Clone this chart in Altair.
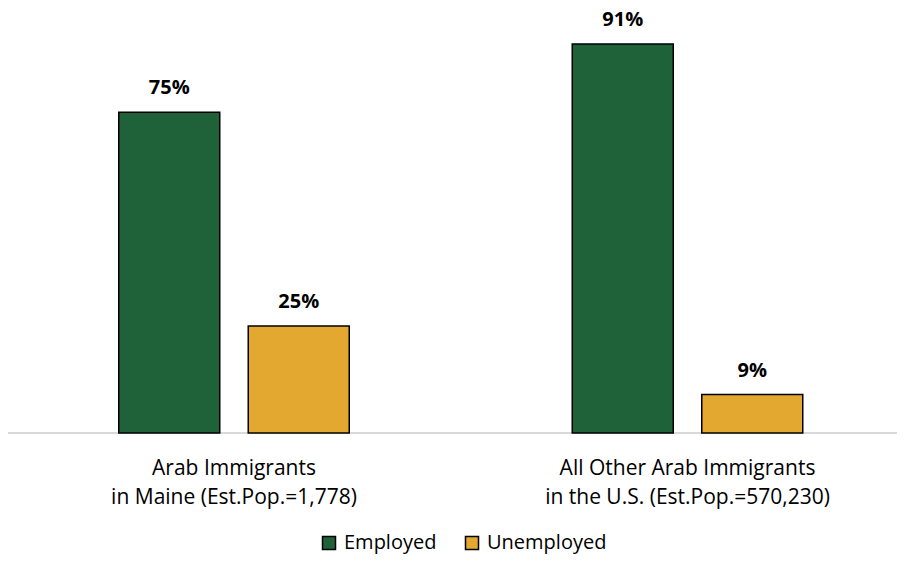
import altair as alt
import pandas as pd

groups = ["Arab Immigrants|in Maine (Est.Pop.=1,778)",
          "All Other Arab Immigrants|in the U.S. (Est.Pop.=570,230)"]
series = ["Employed", "Unemployed"]
employed = [75, 91]
unemployed = [25, 9]
colors = ["#1F6239", "#E3A82F"]

rows = []
for g, e, u in zip(groups, employed, unemployed):
    rows.append({"group": g, "status": series[0], "value": e, "label": f"{e}%"})
    rows.append({"group": g, "status": series[1], "value": u, "label": f"{u}%"})
df = pd.DataFrame(rows)
base_df = pd.DataFrame({"value": [0]})

FONT = "Open Sans"
LEFT = 16.5
W = 872.5

x = alt.X("group:N", sort=groups, title=None,
          scale=alt.Scale(paddingInner=0.0761, paddingOuter=0),
          axis=alt.Axis(labelExpr="split(datum.label, '|')", labelAngle=0,
                        labelFontSize=21, labelFont=FONT, labelColor="#000000",
                        labelLineHeight=29, labelPadding=24, ticks=False, labelLimit=0,
                        domain=False, labelBaseline="top"))
xo = alt.XOffset("status:N", sort=series,
                 scale=alt.Scale(paddingInner=0.22, paddingOuter=0.7278))
y = alt.Y("value:Q", scale=alt.Scale(domain=[0, 98.0], nice=False, zero=True),
          axis=None)

baseline = alt.Chart(base_df).mark_rule(color="#D9D9D9", strokeWidth=2).encode(
    y=y, x=alt.value(-LEFT - 1), x2=alt.value(W)
)

bars = alt.Chart(df).mark_bar(stroke="#000000", strokeWidth=1.5).encode(
    x=x, xOffset=xo, y=y,
    color=alt.Color("status:N", sort=series,
                    scale=alt.Scale(domain=series, range=colors),
                    legend=alt.Legend(title=None, orient="none", direction="horizontal",
                                      legendX=294.5, legendY=519,
                                      symbolType="square", symbolSize=169,
                                      symbolStrokeColor="#000000", symbolStrokeWidth=1.5,
                                      labelFont=FONT, labelFontSize=20, labelColor="#000000",
                                      labelOffset=5, columnPadding=25, padding=0))
)

labels = alt.Chart(df).mark_text(font=FONT, fontSize=20, fontWeight="bold",
                                 baseline="alphabetic", dy=-18, color="#000000").encode(
    x=x, xOffset=xo, y=y, text="label:N"
)

chart = alt.layer(baseline, bars, labels).properties(
    width=W, height=419,
    autosize=alt.AutoSizeParams(type="none"),
    padding={"left": LEFT, "top": 6, "right": 0, "bottom": 122},
).configure_view(stroke=None)

chart.save("out.html", embed_options={"renderer": "svg", "actions": False})
